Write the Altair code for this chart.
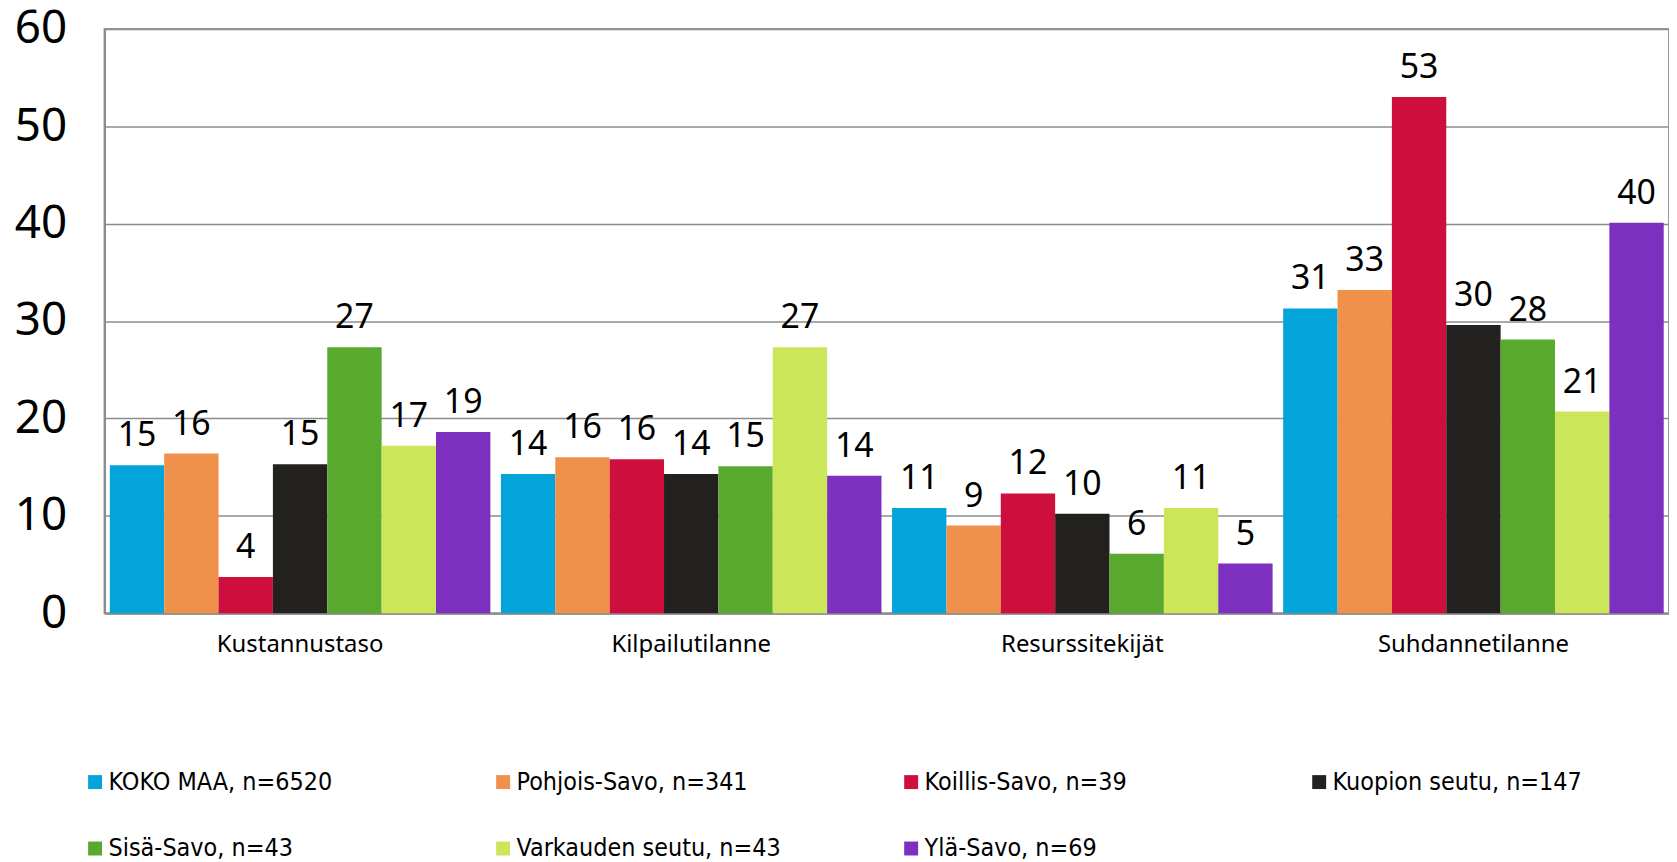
import altair as alt
import pandas as pd

categories = ["Kustannustaso", "Kilpailutilanne", "Resurssitekijät", "Suhdannetilanne"]
series = [
    "KOKO MAA, n=6520",
    "Pohjois-Savo, n=341",
    "Koillis-Savo, n=39",
    "Kuopion seutu, n=147",
    "Sisä-Savo, n=43",
    "Varkauden seutu, n=43",
    "Ylä-Savo, n=69",
]
colors = ["#03A4DA", "#EF914B", "#CE0F3E", "#22211F", "#58A92E", "#CBE759", "#7D2FC0"]

koko_maa = [15.2, 14.3, 10.8, 31.3]
pohjois_savo = [16.4, 16.0, 9.0, 33.2]
koillis_savo = [3.7, 15.8, 12.3, 53.0]
kuopion_seutu = [15.3, 14.3, 10.2, 29.6]
sisa_savo = [27.3, 15.1, 6.1, 28.1]
varkauden_seutu = [17.2, 27.3, 10.8, 20.7]
yla_savo = [18.6, 14.1, 5.1, 40.1]

all_values = [koko_maa, pohjois_savo, koillis_savo, kuopion_seutu, sisa_savo, varkauden_seutu, yla_savo]

rows = []
for s, vals in zip(series, all_values):
    for c, v in zip(categories, vals):
        rows.append({"category": c, "series": s, "value": v})
df = pd.DataFrame(rows)

FONT = "Noto Sans"

x_enc = alt.X(
    "category:N",
    sort=categories,
    scale=alt.Scale(paddingInner=0.027, paddingOuter=0.0135),
    axis=alt.Axis(
        title=None,
        labelAngle=0,
        labelFontSize=24,
        labelFont=FONT,
        labelColor="#000000",
        labelPadding=20,
        labelLimit=400,
        ticks=False,
        domainColor="#8c8c8c",
        domainWidth=2,
    ),
)
xoff_enc = alt.XOffset("series:N", sort=series, scale=alt.Scale(paddingInner=0, paddingOuter=0))
y_enc = alt.Y(
    "value:Q",
    scale=alt.Scale(domain=[0, 60], nice=False),
    axis=alt.Axis(
        title=None,
        values=[0, 10, 20, 30, 40, 50, 60],
        labelFontSize=46,
        labelFont=FONT,
        labelColor="#000000",
        labelPadding=38,
        ticks=False,
        grid=True,
        gridColor="#8c8c8c",
        gridWidth=1.5,
        domainColor="#8c8c8c",
        domainWidth=2,
    ),
)

bars = alt.Chart(df).mark_bar().encode(
    x=x_enc,
    xOffset=xoff_enc,
    y=y_enc,
    color=alt.Color(
        "series:N",
        sort=series,
        scale=alt.Scale(domain=series, range=colors),
        legend=alt.Legend(
            title=None,
            orient="none",
            legendX=-22,
            legendY=744,
            columns=4,
            direction="horizontal",
            symbolType="square",
            symbolSize=196,
            symbolStrokeWidth=0,
            labelFontSize=25,
            labelFont="DejaVu Sans Condensed",
            labelColor="#000000",
            labelOffset=1,
            columnPadding=118,
            rowPadding=41,
            gridAlign="all",
            labelLimit=400,
        ),
    ),
)

labels = alt.Chart(df).mark_text(
    baseline="alphabetic", dy=-19, fontSize=34, font=FONT, color="#000000"
).encode(
    x=alt.X("category:N", sort=categories),
    xOffset=alt.XOffset("series:N", sort=series),
    y=alt.Y("value:Q"),
    text=alt.Text("value:Q", format=".0f"),
)

chart = (
    alt.layer(bars, labels)
    .properties(width=1572, height=587, padding={"left": 6, "top": -4, "right": 0, "bottom": 0})
    .configure_view(stroke="#9a9a9a", strokeWidth=2)
)

chart.save("out.html", embed_options={"renderer": "svg", "actions": False})
